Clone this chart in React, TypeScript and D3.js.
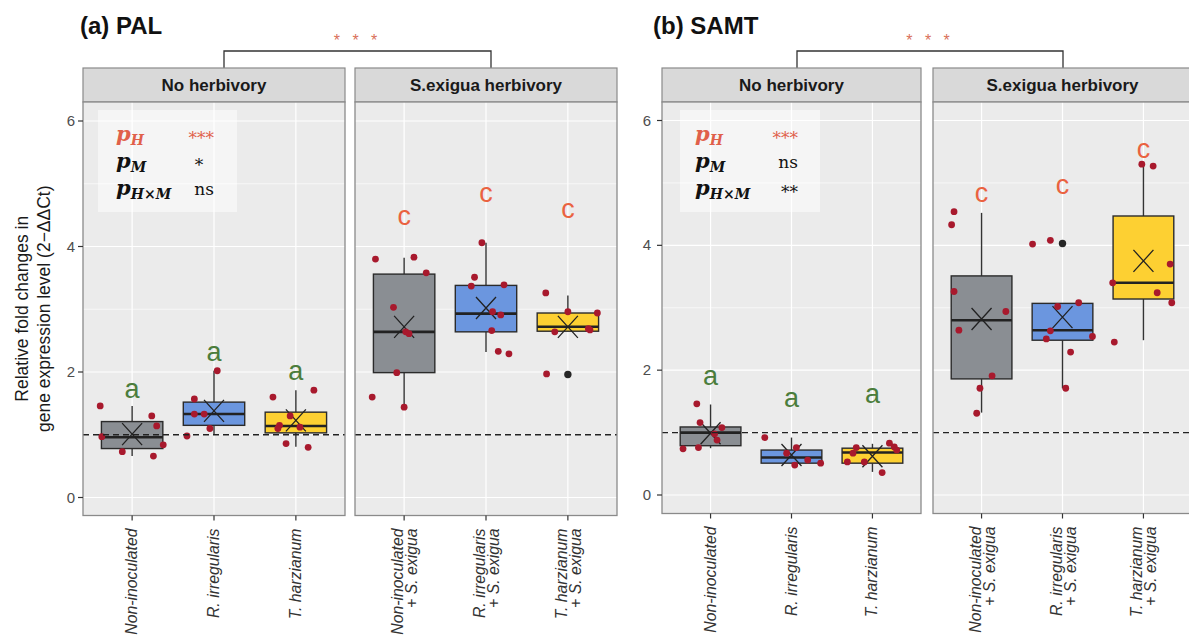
import React from "react";
import * as d3 from "d3";

// ---------- shared categories / labels ----------
const facets = ["No herbivory", "S.exigua herbivory"];
const categories = ["Non-inoculated", "R. irregularis", "T. harzianum"];
const xLabels: string[][][] = [
  [["Non-inoculated"], ["R. irregularis"], ["T. harzianum"]],
  [
    ["Non-inoculated", "+ S. exigua"],
    ["R. irregularis", "+ S. exigua"],
    ["T. harzianum", "+ S. exigua"],
  ],
];
const yTicks = [0, 2, 4, 6];
const yMinor = [1, 3, 5];
const refLine = 1;

// ---------- (a) PAL : groups ordered NoHerb x3, Herb x3 ----------
const palLow = [0.66, 1.0, 0.81, 1.44, 2.32, 2.65];
const palQ1 = [0.78, 1.15, 1.03, 1.99, 2.64, 2.65];
const palMedian = [0.96, 1.33, 1.14, 2.64, 2.93, 2.72];
const palQ3 = [1.21, 1.52, 1.36, 3.56, 3.38, 2.94];
const palHigh = [1.46, 2.02, 1.71, 3.82, 4.06, 3.22];
const palMean = [1.01, 1.38, 1.23, 2.72, 3.02, 2.72];
const palOutliers = [[], [], [], [], [], [1.96]];
const palLetters = ["a", "a", "a", "c", "c", "c"];
const palLetterY = [1.7, 2.29, 1.98, 4.46, 4.82, 4.56];
// points: [jitter (category units), value]
const palPoints: number[][][] = [
  [[-0.39, 1.46], [0.24, 1.3], [0.3, 1.14], [-0.37, 0.97], [0.38, 0.84], [-0.12, 0.73], [0.26, 0.66]],
  [[0.04, 2.02], [-0.24, 1.57], [-0.24, 1.33], [-0.12, 1.33], [-0.05, 1.1], [-0.33, 0.98]],
  [[-0.28, 1.6], [0.22, 1.71], [-0.07, 1.3], [-0.2, 1.15], [-0.22, 1.1], [0.05, 1.12], [-0.12, 0.86], [0.15, 0.8]],
  [[-0.35, 3.8], [0.12, 3.83], [0.27, 3.58], [-0.13, 3.03], [0.02, 2.64], [0.06, 2.61], [-0.09, 1.99], [-0.39, 1.6], [0.0, 1.44]],
  [[-0.05, 4.06], [-0.14, 3.51], [-0.18, 3.37], [0.22, 3.39], [0.08, 2.96], [0.18, 2.91], [0.07, 2.66], [0.15, 2.33], [0.28, 2.29]],
  [[-0.27, 3.26], [0.0, 2.96], [0.36, 2.94], [-0.16, 2.64], [0.25, 2.69], [0.27, 2.67], [-0.26, 1.97]],
];
const palStats = [
  { label: "H", value: "***", red: true },
  { label: "M", value: "*", red: false },
  { label: "H×M", value: "ns", red: false },
];

// ---------- (b) SAMT ----------
const samtLow = [0.75, 0.51, 0.37, 1.32, 1.71, 2.48];
const samtQ1 = [0.79, 0.51, 0.51, 1.86, 2.48, 3.14];
const samtMedian = [1.0, 0.6, 0.68, 2.8, 2.64, 3.4];
const samtQ3 = [1.09, 0.72, 0.75, 3.51, 3.07, 4.47];
const samtHigh = [1.45, 0.92, 0.82, 4.52, 3.07, 5.29];
const samtMean = [0.99, 0.64, 0.62, 2.82, 2.85, 3.75];
const samtOutliers = [[], [], [], [], [4.03], []];
const samtLetters = ["a", "a", "a", "c", "c", "c"];
const samtLetterY = [1.88, 1.53, 1.59, 4.81, 4.94, 5.51];
const samtPoints: number[][][] = [
  [[-0.17, 1.46], [-0.13, 1.16], [0.14, 1.08], [0.05, 0.98], [0.08, 0.88], [-0.34, 0.74], [-0.15, 0.76]],
  [[-0.33, 0.92], [0.06, 0.76], [0.04, 0.48], [0.2, 0.56], [0.36, 0.51], [-0.06, 0.67]],
  [[-0.2, 0.76], [-0.24, 0.67], [0.21, 0.83], [0.27, 0.77], [0.3, 0.72], [-0.1, 0.53], [-0.31, 0.53], [0.12, 0.36]],
  [[-0.34, 4.54], [-0.37, 4.33], [-0.34, 3.26], [0.3, 2.94], [-0.28, 2.64], [0.13, 1.91], [-0.02, 1.71], [-0.06, 1.31]],
  [[-0.37, 4.02], [-0.15, 4.08], [-0.06, 3.02], [0.2, 3.08], [-0.15, 2.63], [-0.2, 2.5], [0.37, 2.54], [0.1, 2.29], [0.04, 1.71]],
  [[-0.02, 5.3], [0.12, 5.27], [-0.38, 3.4], [0.33, 3.7], [0.17, 3.24], [0.35, 3.08], [-0.36, 2.45]],
];
const samtStats = [
  { label: "H", value: "***", red: true },
  { label: "M", value: "ns", red: false },
  { label: "H×M", value: "**", red: false },
];

// ---------- styling ----------
const fills = ["#8a8e93", "#6b96df", "#fdd032"];
const pointColor = "#a8192d";
const redText = "#e0604a";
const greenLetter = "#4b7d3c";
const orangeLetter = "#ea6240";
const sans = "'Liberation Sans', Arial, sans-serif";
const serif = "'DejaVu Serif', serif";

type Cfg = {
  title: string;
  titleX: number;
  facetX: [number, number][];
  y0: number;
  y6: number;
  plotTop: number;
  plotBottom: number;
  stripTop: number;
  bracket: [number, number];
  bracketY: number;
  yLabelX: number;
  statsBox: [number, number, number, number];
  statsPX: number;
  statsAnchor: ("end" | "middle")[];
  statsValXs: number[];
  showYTitle: boolean;
};

function Panel({
  cfg, low, q1, med, q3, high, mean, outliers, letters, letterY, points, stats,
}: any) {
  const c: Cfg = cfg;
  const y = d3.scaleLinear().domain([0, 6]).range([c.y0, c.y6]);
  const rowBase = [141, 168, 195];
  return (
    <g>
      <text x={c.titleX} y={34} fontFamily={sans} fontWeight="bold" fontSize={24} fill="#111">
        {c.title}
      </text>
      {/* bracket */}
      <path
        d={`M${c.bracket[0]},${c.stripTop}V${c.bracketY}H${c.bracket[1]}V${c.stripTop}`}
        fill="none" stroke="#333" strokeWidth={1.3}
      />
      <text x={(c.bracket[0] + c.bracket[1]) / 2} y={46} textAnchor="middle" fontFamily={sans}
        fontSize={16} fill="#d9705a" letterSpacing={4}>
        * * *
      </text>
      {facets.map((f, fi) => {
        const [fx0, fx1] = c.facetX[fi];
        const x = d3.scalePoint<number>().domain([0, 1, 2]).range([fx0, fx1]).padding(0.6);
        const step = x.step();
        const bw = step * 0.75;
        return (
          <g key={f}>
            {/* strip */}
            <rect x={fx0} y={c.stripTop} width={fx1 - fx0} height={c.plotTop - c.stripTop}
              fill="#d9d9d9" stroke="#8a8a8a" strokeWidth={1.2} />
            <text x={(fx0 + fx1) / 2} y={(c.stripTop + c.plotTop) / 2 + 6} textAnchor="middle"
              fontFamily={sans} fontWeight="bold" fontSize={17} fill="#1a1a1a">
              {f}
            </text>
            {/* panel background */}
            <rect x={fx0} y={c.plotTop} width={fx1 - fx0} height={c.plotBottom - c.plotTop} fill="#ebebeb" />
            {yMinor.map((t) => (
              <line key={"mn" + t} x1={fx0} x2={fx1} y1={y(t)} y2={y(t)} stroke="#fff" strokeWidth={0.6} />
            ))}
            {yTicks.map((t) => (
              <line key={"mj" + t} x1={fx0} x2={fx1} y1={y(t)} y2={y(t)} stroke="#fff" strokeWidth={1.2} />
            ))}
            {[0, 1, 2].map((k) => (
              <line key={"vx" + k} x1={x(k)} x2={x(k)} y1={c.plotTop} y2={c.plotBottom} stroke="#fff" strokeWidth={1.2} />
            ))}
            {/* boxes */}
            {[0, 1, 2].map((k) => {
              const g = fi * 3 + k;
              const cx = x(k) as number;
              return (
                <g key={"b" + k}>
                  <line x1={cx} x2={cx} y1={y(high[g])} y2={y(q3[g])} stroke="#333" strokeWidth={1.4} />
                  <line x1={cx} x2={cx} y1={y(q1[g])} y2={y(low[g])} stroke="#333" strokeWidth={1.4} />
                  <rect x={cx - bw / 2} y={y(q3[g])} width={bw} height={y(q1[g]) - y(q3[g])}
                    fill={fills[k]} stroke="#2b2b2b" strokeWidth={1.4} />
                  <line x1={cx - bw / 2} x2={cx + bw / 2} y1={y(med[g])} y2={y(med[g])} stroke="#222" strokeWidth={2.6} />
                  {outliers[g].map((o: number, oi: number) => (
                    <circle key={oi} cx={cx} cy={y(o)} r={3.7} fill="#262626" />
                  ))}
                  {/* mean X */}
                  <path
                    d={`M${cx - 10},${y(mean[g]) - 11}L${cx + 10},${y(mean[g]) + 11}M${cx + 10},${y(mean[g]) - 11}L${cx - 10},${y(mean[g]) + 11}`}
                    stroke="#222" strokeWidth={1.3} fill="none"
                  />
                  {points[g].map((p: number[], pi: number) => (
                    <circle key={pi} cx={cx + p[0] * step} cy={y(p[1])} r={3.4} fill={pointColor} />
                  ))}
                  <text x={cx} y={y(letterY[g]) + 7} textAnchor="middle" fontFamily={sans} fontSize={27}
                    fill={letters[g] === "a" ? greenLetter : orangeLetter}>
                    {letters[g]}
                  </text>
                </g>
              );
            })}
            <line x1={fx0} x2={fx1} y1={y(refLine)} y2={y(refLine)} stroke="#222" strokeWidth={1.4} strokeDasharray="6,4" />
            <rect x={fx0} y={c.plotTop} width={fx1 - fx0} height={c.plotBottom - c.plotTop}
              fill="none" stroke="#8a8a8a" strokeWidth={1.3} />
            {/* x axis */}
            {[0, 1, 2].map((k) => {
              const cx = x(k) as number;
              const lines = xLabels[fi][k];
              return (
                <g key={"xt" + k}>
                  <line x1={cx} x2={cx} y1={c.plotBottom} y2={c.plotBottom + 5} stroke="#333" strokeWidth={1.2} />
                  <g transform={`translate(${cx},${c.plotBottom + 13}) rotate(-90)`}>
                    {lines.map((ln, li) => (
                      <text key={li} x={0} y={lines.length === 1 ? 5 : li === 0 ? -1 : 13}
                        textAnchor="end" fontFamily={sans} fontStyle="italic" fontSize={15.8} fill="#333">
                        {ln}
                      </text>
                    ))}
                  </g>
                </g>
              );
            })}
          </g>
        );
      })}
      {/* y axis */}
      {yTicks.map((t) => (
        <g key={"yt" + t}>
          <line x1={c.facetX[0][0] - 5} x2={c.facetX[0][0]} y1={y(t)} y2={y(t)} stroke="#333" strokeWidth={1.2} />
          <text x={c.yLabelX} y={y(t) + 5} textAnchor="end" fontFamily={sans} fontSize={15} fill="#4d4d4d">
            {t}
          </text>
        </g>
      ))}
      {c.showYTitle && (
        <g transform={`translate(0,${(c.plotTop + c.plotBottom) / 2}) rotate(-90)`}>
          <text x={0} y={28} textAnchor="middle" fontFamily={sans} fontSize={17.5} fill="#1a1a1a">
            Relative fold changes in
          </text>
          <text x={0} y={50} textAnchor="middle" fontFamily={sans} fontSize={17.5} fill="#1a1a1a">
            gene expression level (2−ΔΔCt)
          </text>
        </g>
      )}
      {/* stats box */}
      <rect x={c.statsBox[0]} y={c.statsBox[1]} width={c.statsBox[2]} height={c.statsBox[3]}
        fill="#ffffff" fillOpacity={0.5} />
      {stats.map((s: any, i: number) => (
        <g key={"st" + i}>
          <text x={c.statsPX} y={rowBase[i]} fontFamily={serif} fontWeight="bold" fontStyle="italic"
            fontSize={21} fill={s.red ? redText : "#111"}>
            p<tspan fontSize={14} dy={4}>{s.label}</tspan>
          </text>
          <text x={c.statsValXs[i]} y={rowBase[i] + (s.value.includes("*") ? 3 : 0)}
            textAnchor={c.statsAnchor[i]} fontFamily={serif} fontSize={17}
            fill={s.red ? redText : "#111"}>
            {s.value}
          </text>
        </g>
      ))}
    </g>
  );
}

const cfgA: Cfg = {
  title: "(a) PAL",
  titleX: 80,
  facetX: [[83, 345], [355, 617]],
  y0: 497.5,
  y6: 121,
  plotTop: 102,
  plotBottom: 515.5,
  stripTop: 68,
  bracket: [224, 491],
  bracketY: 51,
  yLabelX: 75,
  statsBox: [98, 110, 139, 102],
  statsPX: 116,
  statsAnchor: ["end", "middle", "end"],
  statsValXs: [214, 199, 214],
  showYTitle: true,
};

const cfgB: Cfg = {
  title: "(b) SAMT",
  titleX: 653,
  facetX: [[662, 921], [933, 1192]],
  y0: 495,
  y6: 120.5,
  plotTop: 102,
  plotBottom: 513.5,
  stripTop: 68,
  bracket: [797, 1063],
  bracketY: 51,
  yLabelX: 651,
  statsBox: [680, 110, 140, 102],
  statsPX: 695,
  statsAnchor: ["end", "end", "end"],
  statsValXs: [798, 798, 798],
  showYTitle: false,
};

export default function App() {
  return (
    <svg width={1189} height={641} style={{ position: "absolute", left: 0, top: 0, background: "#fff" }}>
      <Panel cfg={cfgA} low={palLow} q1={palQ1} med={palMedian} q3={palQ3} high={palHigh} mean={palMean}
        outliers={palOutliers} letters={palLetters} letterY={palLetterY} points={palPoints} stats={palStats} />
      <Panel cfg={cfgB} low={samtLow} q1={samtQ1} med={samtMedian} q3={samtQ3} high={samtHigh} mean={samtMean}
        outliers={samtOutliers} letters={samtLetters} letterY={samtLetterY} points={samtPoints} stats={samtStats} />
    </svg>
  );
}
